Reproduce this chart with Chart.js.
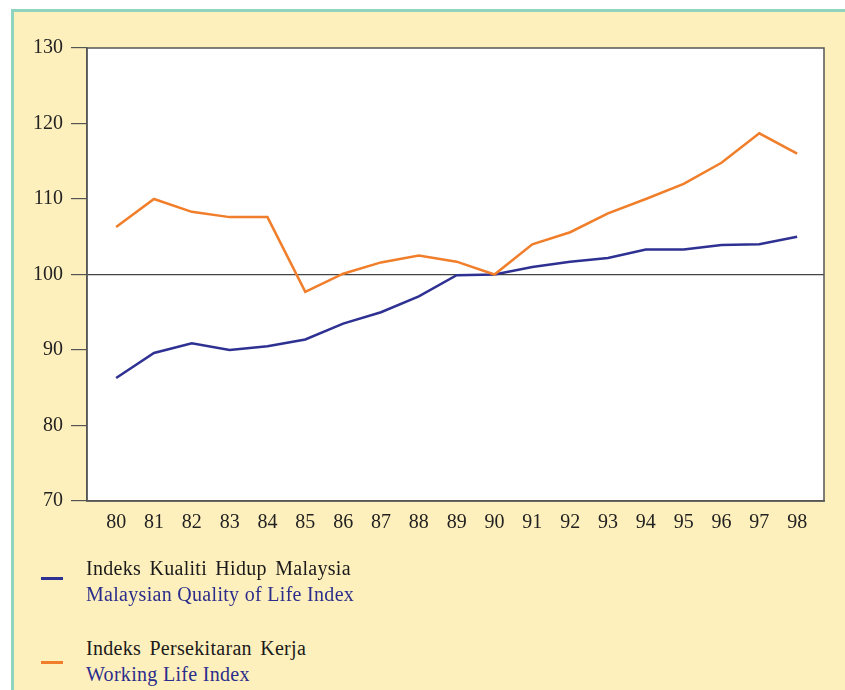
<!DOCTYPE html>
<html>
<head>
<meta charset="utf-8">
<script src="https://cdn.jsdelivr.net/npm/chart.js@4/dist/chart.umd.min.js"></script>
<style>
  html, body { margin: 0; padding: 0; background: #ffffff; width: 845px; height: 690px; overflow: hidden; }
  #frame { position: absolute; left: 11px; top: 9px; width: 900px; height: 720px; background: #FEF0BC; border-left: 3px solid #8FD4BE; border-top: 3px solid #8FD4BE; }
  #wrap { position: absolute; left: 0; top: 0; width: 845px; height: 560px; }
  .leg { position: absolute; font-family: "Liberation Serif", "Times New Roman", serif; font-size: 20px; line-height: 26px; letter-spacing: 0.3px; }
  .leg .l1 { color: #1a1a1a; word-spacing: 3px; }
  .leg .l2 { color: #2B2D8C; }
  .dash { position: absolute; width: 22px; height: 3px; }
</style>
</head>
<body>
<div id="frame"></div>
<div id="wrap"><canvas id="c" width="845" height="560"></canvas></div>
<div class="dash" style="left:41px; top:577px; background:#2E3192;"></div>
<div class="leg" style="left:86px; top:555px;"><div class="l1">Indeks Kualiti Hidup Malaysia</div><div class="l2">Malaysian Quality of Life Index</div></div>
<div class="dash" style="left:41px; top:661px; background:#F07E2A;"></div>
<div class="leg" style="left:86px; top:635px;"><div class="l1">Indeks Persekitaran Kerja</div><div class="l2">Working Life Index</div></div>
<script>
const years = [80,81,82,83,84,85,86,87,88,89,90,91,92,93,94,95,96,97,98];
const xLabels = ['80','81','82','83','84','85','86','87','88','89','90','91','92','93','94','95','96','97','98'];
const qualityOfLife = [86.3,89.6,90.9,90.0,90.5,91.4,93.5,95.0,97.1,99.9,100.0,101.0,101.7,102.2,103.3,103.3,103.9,104.0,105.0];
const workingLife = [106.3,110.0,108.3,107.6,107.6,97.7,100.1,101.6,102.5,101.7,100.0,104.0,105.6,108.1,110.0,112.0,114.8,118.7,116.0];
const yTicks = [70,80,90,100,110,120,130];

const frameBox = {
  id: 'frameBox',
  afterDatasetsDraw(chart) {
    const a = chart.chartArea, ctx = chart.ctx;
    ctx.save();
    ctx.strokeStyle = '#555';
    ctx.lineWidth = 1.5;
    ctx.strokeRect(a.left, a.top, a.right - a.left, a.bottom - a.top);
    ctx.restore();
  }
};
const plotBg = {
  id: 'plotBg',
  beforeDraw(chart) {
    const a = chart.chartArea, ctx = chart.ctx;
    ctx.save();
    ctx.fillStyle = '#ffffff';
    ctx.fillRect(a.left, a.top, a.right - a.left, a.bottom - a.top);
    ctx.restore();
  }
};

const font = { family: '"Liberation Serif", "Times New Roman", serif', size: 20 };

new Chart(document.getElementById('c'), {
  type: 'line',
  data: {
    datasets: [
      { label: 'Working Life Index', data: years.map((y,i)=>({x:y, y:workingLife[i]})), borderColor: '#F07E2A', borderWidth: 2.5, pointRadius: 0, tension: 0, fill: false },
      { label: 'Malaysian Quality of Life Index', data: years.map((y,i)=>({x:y, y:qualityOfLife[i]})), borderColor: '#2E3192', borderWidth: 2.5, pointRadius: 0, tension: 0, fill: false }
    ]
  },
  options: {
    responsive: false,
    animation: false,
    events: [],
    layout: { padding: { top: 48, right: 21, left: 0, bottom: 0 } },
    plugins: { legend: { display: false }, tooltip: { enabled: false } },
    scales: {
      x: {
        type: 'linear',
        min: 79.23, max: 98.71,
        afterBuildTicks(s) { s.ticks = years.map(v => ({ value: v })); },
        afterFit(s) { s.height = 59; },
        grid: { display: false, drawTicks: false },
        border: { display: true, color: '#555', width: 1.5 },
        ticks: { font, color: '#222', padding: 10, maxRotation: 0, autoSkip: false,
          callback: (v) => { const i = years.indexOf(v); return i >= 0 ? xLabels[i] : ''; } }
      },
      y: {
        min: 70, max: 130,
        afterBuildTicks(s) { s.ticks = yTicks.map(v => ({ value: v })); },
        afterFit(s) { s.width = 87; },
        grid: {
          drawOnChartArea: true,
          color: (c) => (c.tick && c.tick.value === 100) ? '#444' : 'rgba(0,0,0,0)',
          tickColor: '#555', tickLength: 16, lineWidth: 1.2
        },
        border: { display: true, color: '#555', width: 1.5 },
        ticks: { font, color: '#222', padding: 8 }
      }
    }
  },
  plugins: [plotBg, frameBox]
});
</script>
</body>
</html>
